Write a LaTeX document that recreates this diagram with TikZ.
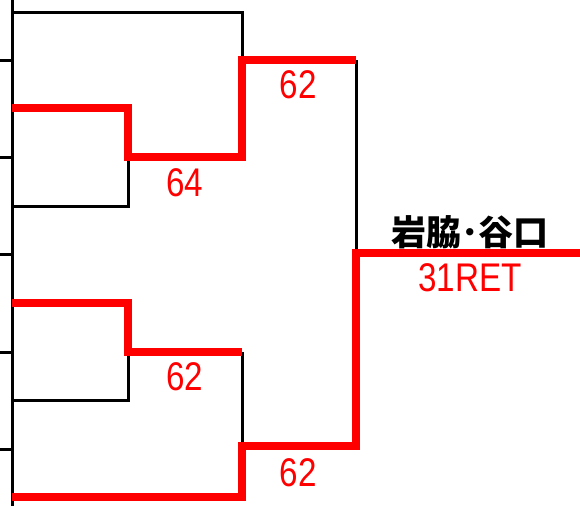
\documentclass[tikz,border=0pt]{standalone}
\usepackage{fontspec}
\setmainfont{Noto Sans CJK JP}
\newfontfamily\latinfont{Liberation Sans}
\begin{document}
\begin{tikzpicture}[x=1pt,y=-1pt,
  blk/.style={line width=3pt,black,line join=miter},
  win/.style={line width=8pt,red,line join=miter},
  scoretxt/.style={text=red,inner sep=0pt,font=\latinfont\fontsize{40}{40}\selectfont,xscale=0.83},
  pairtxt/.style={text=black,inner sep=0pt,font=\fontsize{35}{35}\selectfont\bfseries}]
\useasboundingbox (0,0) rectangle (580,506);
% left rail
\coordinate (rt) at (12,0); \coordinate (rb) at (12,506);
\draw[blk] (rt) -- (rb);
\foreach \y/\n in {60/a,157/b,254/c,352/d,449/e}{
  \coordinate (t\n0) at (0,\y); \coordinate (t\n1) at (12,\y);
  \draw[blk] (t\n0) -- (t\n1);}
% coordinates
\coordinate (p1) at (12,12);  \coordinate (p1e) at (242,12);
\coordinate (q1) at (242,60); \coordinate (q1e) at (356,60);
\coordinate (p2) at (12,108); \coordinate (p2e) at (128,108);
\coordinate (m1) at (128,157); \coordinate (m1e) at (242,157);
\coordinate (p3) at (12,206); \coordinate (p3e) at (128,206);
\coordinate (f) at (356,253); \coordinate (fe) at (580,253);
\coordinate (p4) at (12,303); \coordinate (p4e) at (128,303);
\coordinate (m2) at (128,352); \coordinate (m2e) at (242,352);
\coordinate (p5) at (12,400); \coordinate (p5e) at (128,400);
\coordinate (q2) at (242,446); \coordinate (q2e) at (356,446);
\coordinate (p6) at (12,497); \coordinate (p6e) at (242,497);
% black (losers)
\draw[blk] (p1) -- (p1e) -- (q1);
\draw[blk] (q1e) -- (f);
\draw[blk] (p3) -- (p3e) -- (m1);
\draw[blk] (m2e) -- (q2);
\draw[blk] (p5) -- (p5e) -- (m2);
% red (winners)
\draw[win] (p2) -- (p2e) -- (m1) -- (m1e) -- (q1) -- (q1e);
\draw[win] (p4) -- (p4e) -- (m2) -- (m2e);
\draw[win] (p6) -- (p6e) -- (q2) -- (q2e) -- (f) -- (fe);
% labels
\node[scoretxt] (s1) at (298,85) {62};
\node[scoretxt] (s2) at (185,183) {64};
\node[scoretxt] (s3) at (185,377) {62};
\node[scoretxt] (s4) at (298,473) {62};
\node[pairtxt] (w) at (470,232) {岩脇･谷口};
\node[scoretxt] (r) at (470,278) {31RET};
\end{tikzpicture}
\end{document}
